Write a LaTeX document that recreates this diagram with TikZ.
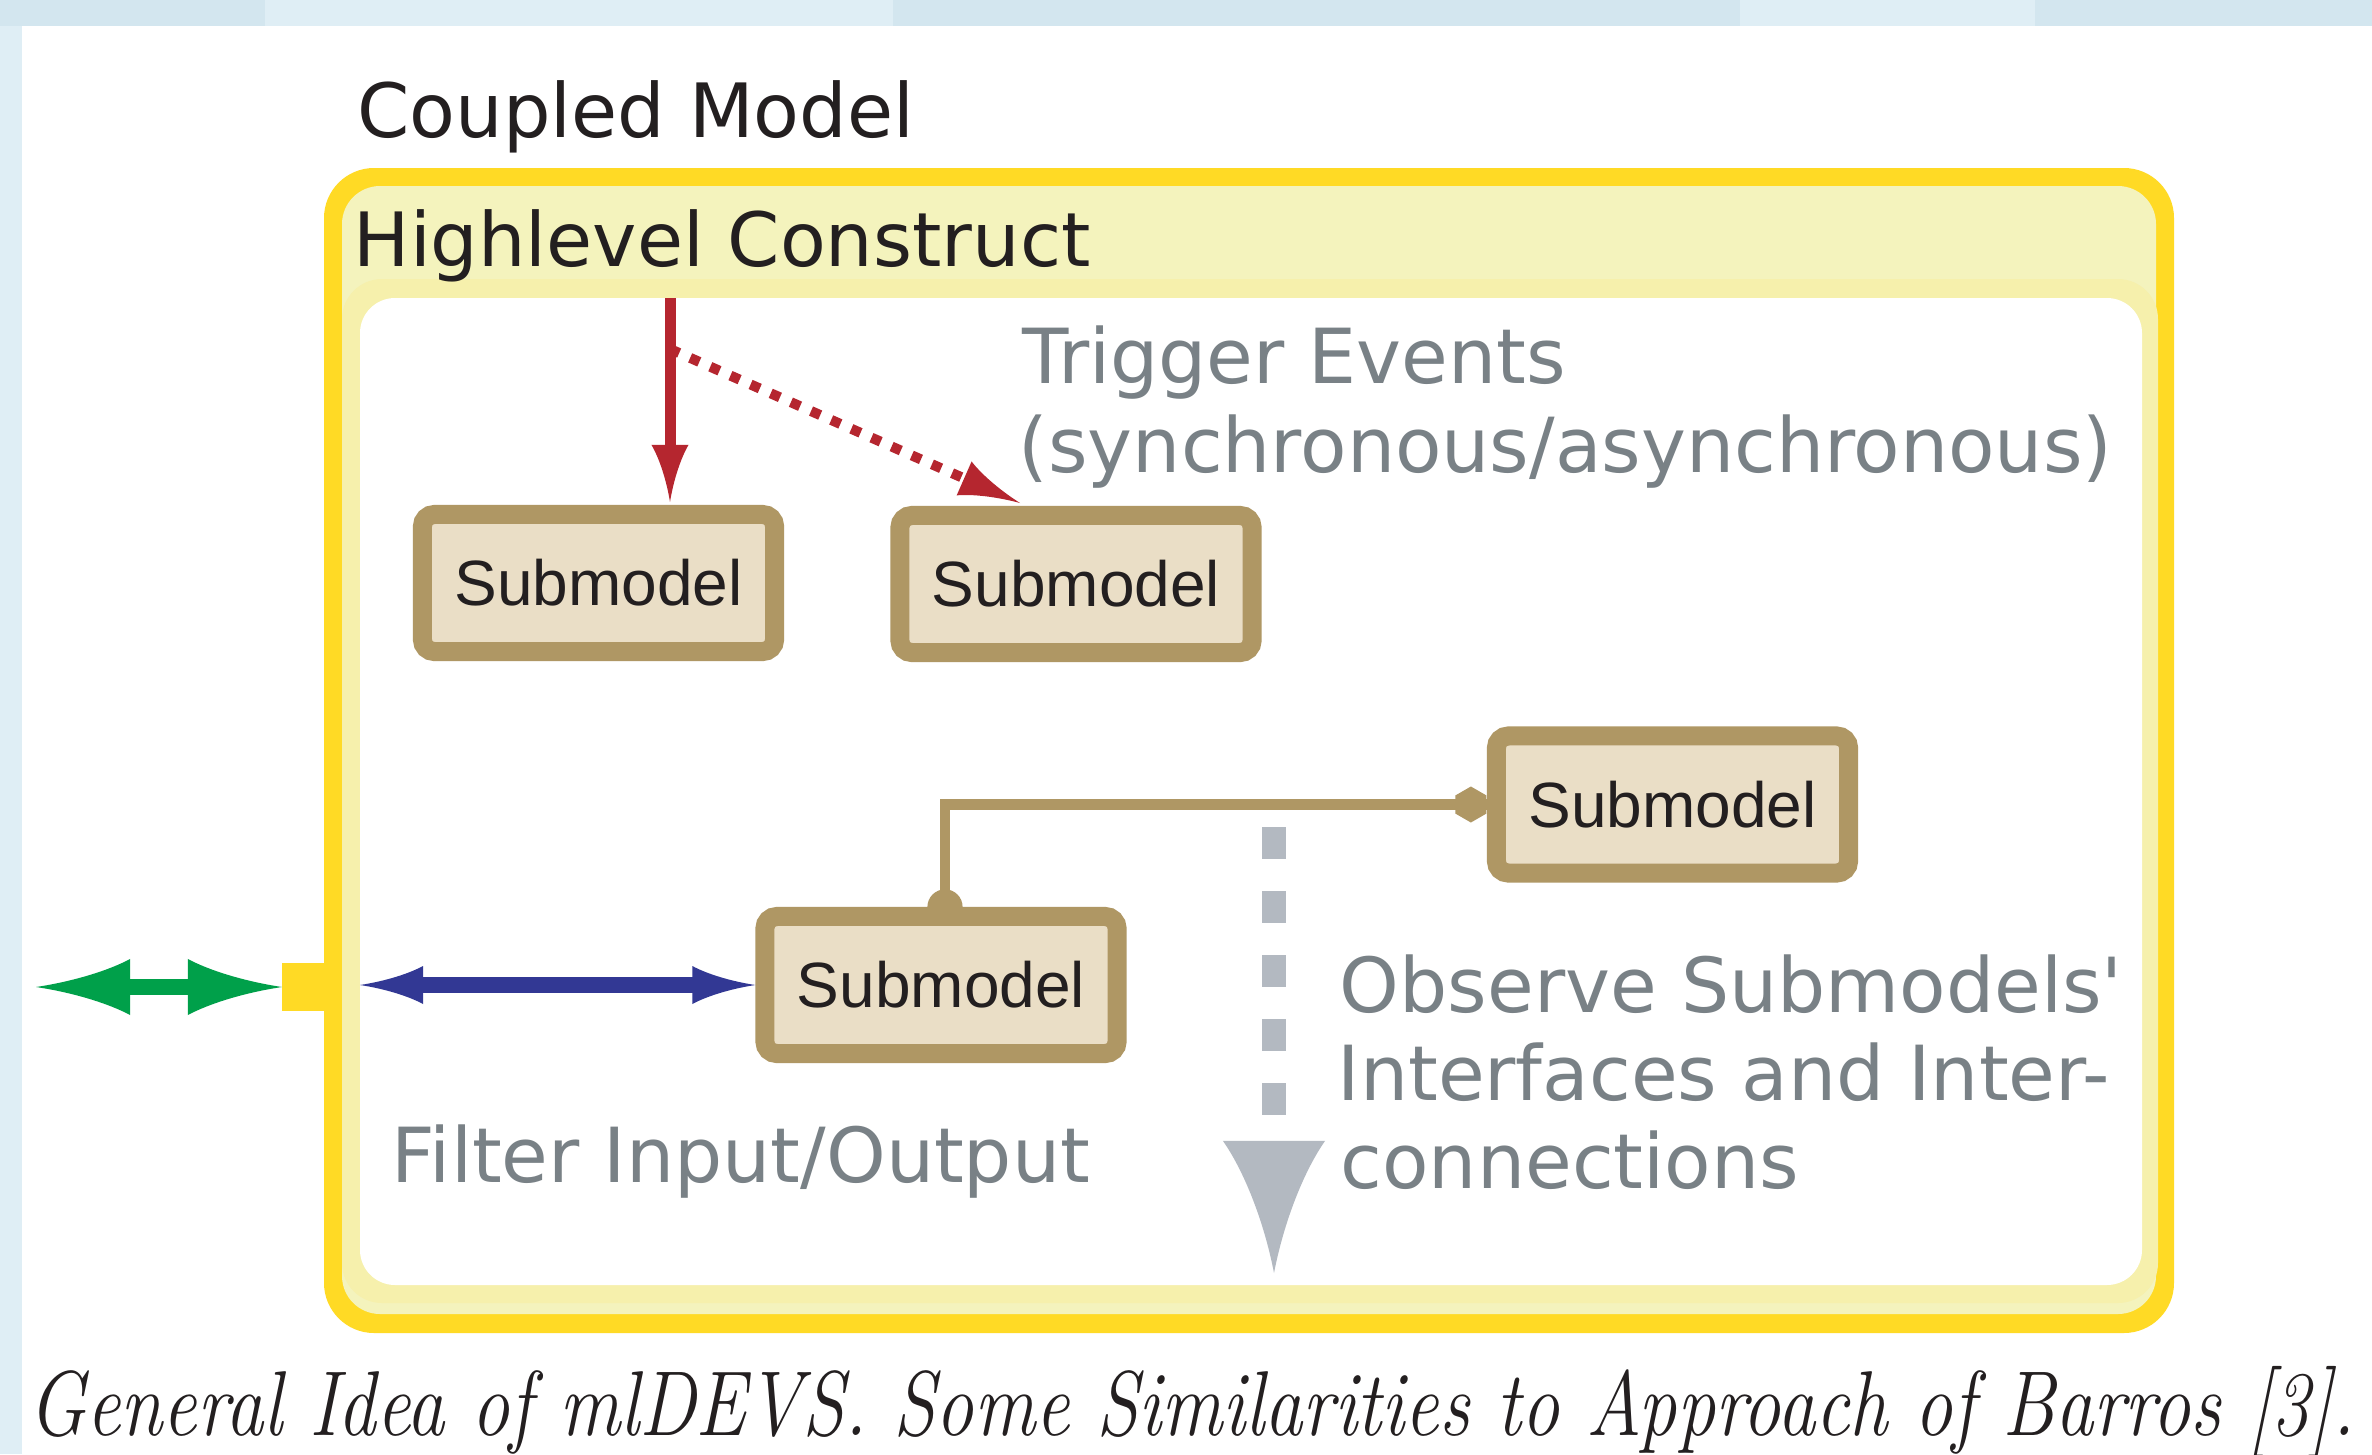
\documentclass[tikz,border=0pt]{standalone}
\usepackage{fontspec}
\usepackage{graphicx}
\usetikzlibrary{arrows.meta}
\newfontfamily\dejavu{DejaVu Sans}
\newfontfamily\libsans{Liberation Sans}
\definecolor{bgblueA}{HTML}{D3E6EF}
\definecolor{bgblueB}{HTML}{DFEEF5}
\definecolor{ylw}{HTML}{FFDA25}
\definecolor{hdr}{HTML}{F4F3BD}
\definecolor{band}{HTML}{F6F0AC}
\definecolor{smbrown}{HTML}{AF9764}
\definecolor{smfill}{HTML}{EADEC6}
\definecolor{txtblack}{HTML}{231F20}
\definecolor{txtgray}{HTML}{798186}
\definecolor{redc}{HTML}{B5262F}
\definecolor{greenc}{HTML}{00A04A}
\definecolor{bluec}{HTML}{323894}
\definecolor{grayarrow}{HTML}{B3B9C1}

\pgfdeclarearrow{
  name = Concave,
  parameters = {\the\pgfarrowlength,\the\pgfarrowwidth},
  setup code = {
    \pgfarrowssettipend{\pgfarrowlength}
    \pgfarrowssetlineend{0.5pt}
    \pgfarrowshullpoint{\pgfarrowlength}{0pt}
    \pgfarrowsupperhullpoint{0pt}{0.5\pgfarrowwidth}
    \pgfarrowssavethe\pgfarrowlength
    \pgfarrowssavethe\pgfarrowwidth
  },
  drawing code = {
    \pgfpathmoveto{\pgfqpoint{\pgfarrowlength}{0pt}}
    \pgfpathcurveto{\pgfqpoint{0.6\pgfarrowlength}{0.1\pgfarrowwidth}}{\pgfqpoint{0.22\pgfarrowlength}{0.3\pgfarrowwidth}}{\pgfqpoint{0pt}{0.5\pgfarrowwidth}}
    \pgfpathlineto{\pgfqpoint{0pt}{-0.5\pgfarrowwidth}}
    \pgfpathcurveto{\pgfqpoint{0.22\pgfarrowlength}{-0.3\pgfarrowwidth}}{\pgfqpoint{0.6\pgfarrowlength}{-0.1\pgfarrowwidth}}{\pgfqpoint{\pgfarrowlength}{0pt}}
    \pgfpathclose
    \pgfusepathqfill
  },
  defaults = {length=10pt, width=8pt}
}

\tikzset{
  smbox/.style={draw=smbrown, fill=smfill, line width=0.19cm, rounded corners=0.12cm,
    minimum width=3.52cm, minimum height=1.37cm, inner sep=0pt, text=txtblack,
    font=\libsans\fontsize{18.2pt}{22pt}\selectfont},
  bigtext/.style={anchor=base west, inner sep=0pt, text=txtblack,
    font=\dejavu\fontsize{21.3pt}{26pt}\selectfont},
  graytext/.style={anchor=base west, inner sep=0pt, text=txtgray,
    font=\dejavu\fontsize{21.6pt}{26pt}\selectfont},
  redarrow/.style={draw=redc, line width=0.11cm, -{Concave[length=0.57cm,width=0.37cm]}},
  reddotted/.style={draw=redc, line width=0.10cm, dash pattern=on 0.10cm off 0.12cm,
    -{Concave[length=0.61cm,width=0.37cm]}},
  greenarrow/.style={draw=greenc, line width=0.16cm,
    {Concave[length=0.94cm,width=0.56cm]}-{Concave[length=0.94cm,width=0.56cm]}},
  bluearrow/.style={draw=bluec, line width=0.16cm,
    {Concave[length=0.63cm,width=0.38cm]}-{Concave[length=0.63cm,width=0.38cm]}},
  grayobs/.style={draw=grayarrow, line width=0.24cm, dash pattern=on 0.32cm off 0.32cm,
    -{Concave[length=1.32cm,width=1.02cm]}},
  brownlink/.style={draw=smbrown, line width=0.105cm},
}

\begin{document}
\begin{tikzpicture}[x=0.01cm, y=-0.01cm]
\useasboundingbox (0,0) rectangle (2372,1454);
% background
\fill[white] (0,0) rectangle (2372,1454);
\fill[bgblueA] (0,0) rectangle (265,26);
\fill[bgblueB] (265,0) rectangle (893,26);
\fill[bgblueA] (893,0) rectangle (1740,26);
\fill[bgblueB] (1740,0) rectangle (2035,26);
\fill[bgblueA] (2035,0) rectangle (2372,26);
\fill[bgblueB] (0,26) rectangle (22,1454);
\fill[bgblueA] (0,0) rectangle (22,26);

% coupled model frame
\fill[ylw, rounded corners=0.5cm] (324,168) rectangle (2174,1333);
\fill[hdr, rounded corners=0.38cm] (342,186) rectangle (2156,1314);
\fill[band, rounded corners=0.4cm] (342,279) rectangle (2158,1303);
\fill[white, rounded corners=0.35cm] (360,298) rectangle (2142,1285);

% titles
\node[bigtext] (cm) at (357,137) {Coupled Model};
\node[bigtext] (hlc) at (353,266) {Highlevel Construct};

% port
\node[fill=ylw, minimum width=0.42cm, minimum height=0.48cm, inner sep=0pt, outer sep=0pt] (port) at (303,987) {};

% submodels
\node[smbox] (sm1) at (598.5,583) {Submodel};
\node[smbox] (sm2) at (1076,584) {Submodel};
\node[smbox] (sm3) at (1672.5,804.5) {Submodel};
\node[smbox] (sm4) at (941,985) {Submodel};

% labels
\node[graytext] (te1) at (1022,383) {Trigger Events};
\node[graytext] (te2) at (1018,472) {(synchronous/asynchronous)};
\node[graytext] (ob1) at (1339,1012) {Observe Submodels'};
\node[graytext] (ob2) at (1337,1100) {Interfaces and Inter-};
\node[graytext] (ob3) at (1340,1188) {connections};
\node[graytext] (fio) at (391,1182) {Filter Input/Output};

% coordinates for free ends
\coordinate (rs) at (670,298);
\coordinate (ds) at (670,349);
\coordinate (de) at (1020,503);
\coordinate (gl) at (36,987);
\coordinate (bl) at (360,985);
\coordinate (gs) at (1274,827);
\coordinate (ge) at (1274,1273);

% connectors
\draw[redarrow, shorten >=0.03cm] (rs) -- (rs |- sm1.north);
\draw[reddotted] (ds) -- (de);
\draw[greenarrow] (gl) -- (port.west);
\draw[bluearrow] (bl) -- (sm4.west);
\draw[grayobs] (gs) -- (ge);
\draw[brownlink] ([xshift=0.04cm]sm4.north) |- (sm3.west);
\fill[smbrown] ([xshift=0.04cm]sm4.north) circle (0.176cm);
\fill[smbrown] ([xshift=-0.16cm]sm3.west) +(90:0.18cm) -- +(30:0.18cm) -- +(-30:0.18cm)
  -- +(-90:0.18cm) -- +(-150:0.18cm) -- +(150:0.18cm) -- cycle;

% caption
\node[anchor=base west, inner sep=0pt, text=txtblack] (cap) at (28,1435)
  {\resizebox{23.25cm}{\height}{\fontsize{26.2pt}{30pt}\selectfont\itshape General Idea of mlDEVS. Some Similarities to Approach of Barros [3].}};
\end{tikzpicture}
\end{document}
